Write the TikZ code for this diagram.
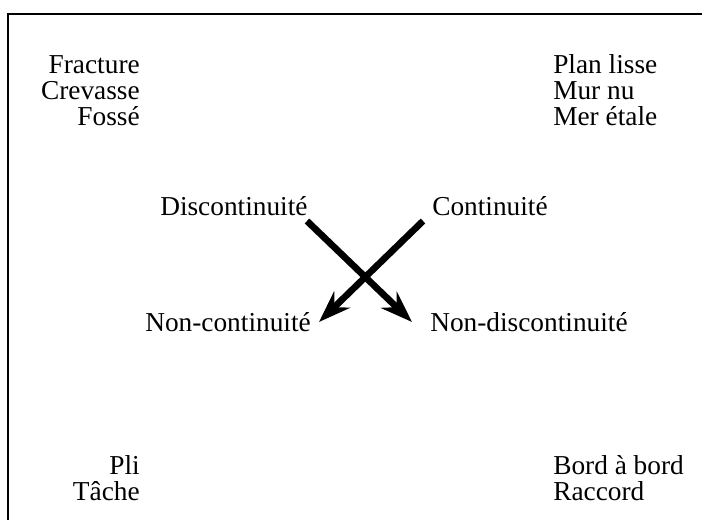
\documentclass[tikz,border=0pt]{standalone}
\usepackage{fontspec}
\setmainfont{Liberation Serif}
\usetikzlibrary{arrows.meta}
\tikzset{
  mot/.style={inner sep=0pt, font=\fontsize{20.5}{24}\selectfont},
  fleche/.style={line width=5pt, -{Stealth[length=24pt, width=17pt, inset=8pt]}},
}
\begin{document}
\begin{tikzpicture}[x=0.75pt,y=-0.75pt]%{{{
\useasboundingbox (0,0) rectangle (702,520);
%
% Cadre
\draw [line width=1.1pt] (8,520) -- (8,14) -- (702,14);
%
% Listes du haut
\foreach \t [count=\i] in {Fracture,Crevasse,Fossé}
  \node [mot, anchor=base east] (hg\i) at (140,{48+26*\i}) {\t};
\foreach \t [count=\i] in {Plan lisse,Mur nu,Mer étale}
  \node [mot, anchor=base west] (hd\i) at (553,{48+26*\i}) {\t};
%
% Carré
\node [mot, anchor=base west] (disc)    at (160,215) {Discontinuité};
\node [mot, anchor=base west] (cont)    at (432,215) {Continuité};
\node [mot, anchor=base west] (noncont) at (145,331) {Non-continuité};
\node [mot, anchor=base west] (nondisc) at (430,331) {Non-discontinuité};
%
% Listes du bas
\foreach \t [count=\i] in {Pli,Tâche}
  \node [mot, anchor=base east] (bg\i) at (140,{448+26*\i}) {\t};
\foreach \t [count=\i] in {Bord à bord,Raccord}
  \node [mot, anchor=base west] (bd\i) at (553,{448+26*\i}) {\t};
%
% Flèches
\coordinate (d1) at (307,221);
\coordinate (d2) at (412,322);
\coordinate (c1) at (423,221);
\coordinate (c2) at (319,322);
\draw [fleche] (d1) -- (d2);
\draw [fleche] (c1) -- (c2);
%
\end{tikzpicture}
\end{document}
